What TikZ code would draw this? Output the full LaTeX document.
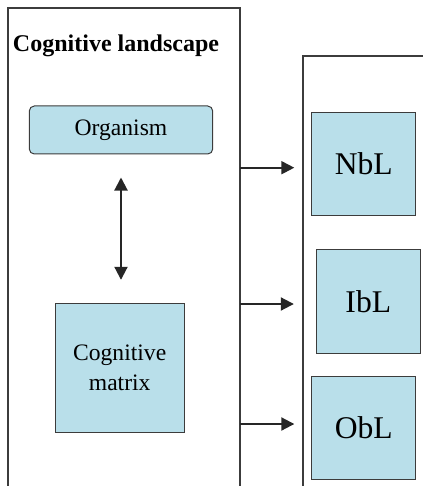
\documentclass[tikz,border=0pt]{standalone}
\usepackage{fontspec}
\setmainfont{Liberation Serif}
\usetikzlibrary{arrows.meta}

\definecolor{boxblue}{RGB}{185,223,234}
\definecolor{edgegray}{RGB}{60,60,60}

\begin{document}
\begin{tikzpicture}[x=1pt,y=-1pt,
  panel/.style={edgegray,line width=1.2pt},
  bluebox/.style={draw=edgegray,fill=boxblue,line width=1pt,inner sep=0pt,align=center,
    font=\fontsize{23.6}{30}\selectfont},
  lbox/.style={bluebox,minimum width=104pt,minimum height=103.5pt,font=\fontsize{31.6}{36}\selectfont},
  arr/.style={-{Triangle[length=13pt,width=13pt]},line width=2pt,black!85},
  dbl/.style={{Triangle[length=13pt,width=13pt]}-{Triangle[length=13pt,width=13pt]},line width=2pt,black!85}]
  \useasboundingbox (0,0) rectangle (423,486);

  % Left panel (open at the bottom)
  \draw[panel] (8,486) -- (8,8) -- (240,8) -- (240,486);
  \node[anchor=base,font=\fontsize{24}{28}\selectfont\bfseries] (title) at (116,52) {Cognitive landscape};

  \node[bluebox,rounded corners=5pt,minimum width=183.4pt,minimum height=48pt] (org) at (121,130) {Organism};
  \node[bluebox,minimum width=128.7pt,minimum height=129pt] (mat) at (119.7,367.8) {Cognitive\\matrix};

  % Right panel (open at the right and the bottom)
  \draw[panel] (303,486) -- (303,56) -- (423,56);
  \node[lbox] (nbl) at (363.8,164) {NbL};
  \node[lbox] (ibl) at (368.3,301.3) {IbL};
  \node[lbox] (obl) at (363.8,427.8) {ObL};

  % Connectors
  \draw[dbl,shorten <=23pt,shorten >=23pt] (org.south) -- (org.south |- mat.north);
  \coordinate (a1) at (240,167.7);
  \coordinate (a2) at (240,304);
  \coordinate (a3) at (240,424);
  \draw[arr,shorten >=17pt] (a1) -- (a1 -| nbl.west);
  \draw[arr,shorten >=22pt] (a2) -- (a2 -| ibl.west);
  \draw[arr,shorten >=17pt] (a3) -- (a3 -| obl.west);
\end{tikzpicture}
\end{document}
